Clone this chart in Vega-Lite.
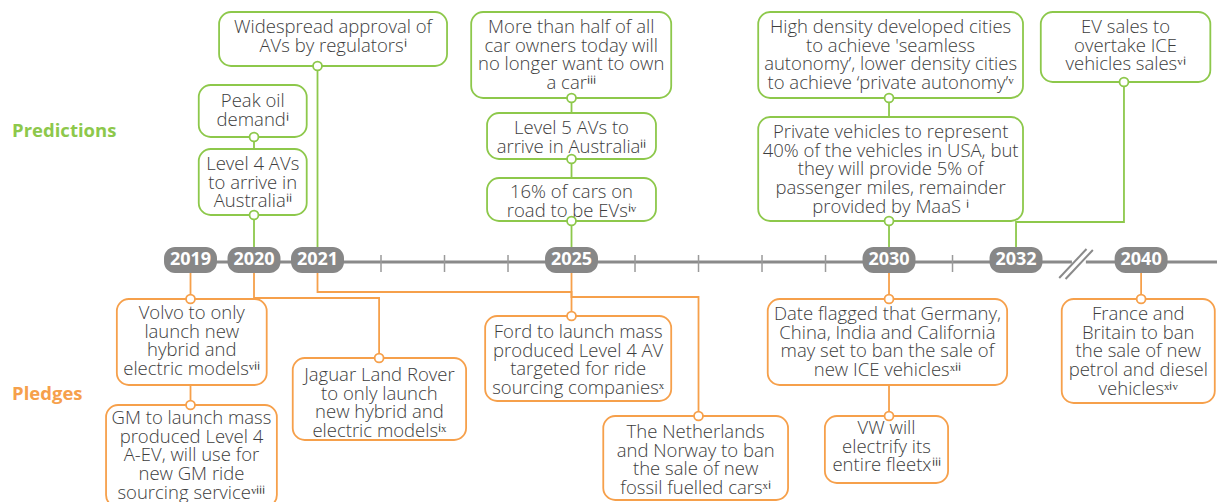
{
  "$schema": "https://vega.github.io/schema/vega-lite/v6.json",
  "width": 1217,
  "height": 502,
  "padding": 0,
  "autosize": "none",
  "background": "white",
  "config": {"view": {"stroke": null}, "axis": {"disable": true}},
  "datasets": {
    "boxes": [
      {"k": "pred", "x1": 2019.45, "x2": 2023.04, "y1": 196, "y2": 250, "tx": 2021.245, "ty": 235, "label": "Widespread approval of\nAVs by regulatorsⁱ"},
      {"k": "pred", "x1": 2019.13, "x2": 2020.83, "y1": 125, "y2": 177, "tx": 2019.98, "ty": 161, "label": "Peak oil\ndemandⁱ"},
      {"k": "pred", "x1": 2019.13, "x2": 2020.83, "y1": 47, "y2": 113, "tx": 2019.98, "ty": 98, "label": "Level 4 AVs\nto arrive in\nAustraliaⁱⁱ"},
      {"k": "pred", "x1": 2023.42, "x2": 2026.57, "y1": 164, "y2": 250, "tx": 2024.995, "ty": 235, "label": "More than half of all\ncar owners today will\nno longer want to own\na carⁱⁱⁱ"},
      {"k": "pred", "x1": 2023.67, "x2": 2026.33, "y1": 103, "y2": 149, "tx": 2025.0, "ty": 134, "label": "Level 5 AVs to\narrive in Australiaⁱⁱ"},
      {"k": "pred", "x1": 2023.67, "x2": 2026.33, "y1": 41, "y2": 84, "tx": 2025.0, "ty": 70, "label": "16% of cars on\nroad to be EVsⁱᵛ"},
      {"k": "pred", "x1": 2027.94, "x2": 2032.11, "y1": 164, "y2": 250, "tx": 2030.025, "ty": 235, "label": "High density developed cities\nto achieve 'seamless\nautonomy’, lower density cities\nto achieve ‘private autonomy’ᵛ"},
      {"k": "pred", "x1": 2027.94, "x2": 2032.11, "y1": 41, "y2": 145, "tx": 2030.025, "ty": 130, "label": "Private vehicles to represent\n40% of the vehicles in USA, but\nthey will provide 5% of\npassenger miles, remainder\nprovided by MaaS ⁱ"},
      {"k": "pred", "x1": 2032.39, "x2": 2035.06, "y1": 180, "y2": 250, "tx": 2033.725, "ty": 235, "label": "EV sales to\novertake ICE\nvehicles salesᵛⁱ"},
      {"k": "pledge", "x1": 2017.84, "x2": 2020.2, "y1": -123, "y2": -37, "tx": 2019.02, "ty": -51, "label": "Volvo to only\nlaunch new\nhybrid and\nelectric modelsᵛⁱⁱ"},
      {"k": "pledge", "x1": 2017.67, "x2": 2020.36, "y1": -245, "y2": -143, "tx": 2019.015, "ty": -156, "label": "GM to launch mass\nproduced Level 4\nA-EV, will  use for\nnew GM ride\nsourcing serviceᵛⁱⁱⁱ"},
      {"k": "pledge", "x1": 2020.61, "x2": 2023.34, "y1": -178, "y2": -96, "tx": 2021.975, "ty": -113, "label": "Jaguar Land Rover\nto only launch\nnew hybrid and\nelectric modelsⁱˣ"},
      {"k": "pledge", "x1": 2023.64, "x2": 2026.57, "y1": -139, "y2": -54, "tx": 2025.105, "ty": -70, "label": "Ford to launch mass\nproduced Level 4 AV\ntargeted for ride\nsourcing companiesˣ"},
      {"k": "pledge", "x1": 2025.5, "x2": 2028.41, "y1": -238, "y2": -154, "tx": 2026.955, "ty": -170, "label": "The Netherlands\nand Norway to ban\nthe sale of new\nfossil fuelled carsˣⁱ"},
      {"k": "pledge", "x1": 2028.09, "x2": 2031.86, "y1": -123, "y2": -37, "tx": 2029.975, "ty": -52, "label": "Date flagged that Germany,\nChina, India and California\nmay set to ban the sale of\nnew ICE vehiclesˣⁱⁱ"},
      {"k": "pledge", "x1": 2028.99, "x2": 2030.93, "y1": -221, "y2": -154, "tx": 2029.96, "ty": -166, "label": "VW will\nelectrify its\nentire fleetxⁱⁱⁱ"},
      {"k": "pledge", "x1": 2032.72, "x2": 2035.13, "y1": -141, "y2": -37, "tx": 2033.925, "ty": -52, "label": "France and\nBritain to ban\nthe sale of new\npetrol and diesel\nvehiclesˣⁱᵛ"}
    ],
    "links": [
      {"id": "a1", "k": "pred", "s": 1, "x": 2020, "y": 0}, {"id": "a1", "k": "pred", "s": 2, "x": 2020, "y": 47},
      {"id": "a2", "k": "pred", "s": 1, "x": 2020, "y": 113}, {"id": "a2", "k": "pred", "s": 2, "x": 2020, "y": 125},
      {"id": "a3", "k": "pred", "s": 1, "x": 2021, "y": 0}, {"id": "a3", "k": "pred", "s": 2, "x": 2021, "y": 196},
      {"id": "a4", "k": "pred", "s": 1, "x": 2025, "y": 0}, {"id": "a4", "k": "pred", "s": 2, "x": 2025, "y": 41},
      {"id": "a5", "k": "pred", "s": 1, "x": 2025, "y": 84}, {"id": "a5", "k": "pred", "s": 2, "x": 2025, "y": 103},
      {"id": "a6", "k": "pred", "s": 1, "x": 2025, "y": 149}, {"id": "a6", "k": "pred", "s": 2, "x": 2025, "y": 164},
      {"id": "a7", "k": "pred", "s": 1, "x": 2030, "y": 0}, {"id": "a7", "k": "pred", "s": 2, "x": 2030, "y": 41},
      {"id": "a8", "k": "pred", "s": 1, "x": 2030, "y": 145}, {"id": "a8", "k": "pred", "s": 2, "x": 2030, "y": 164},
      {"id": "a9", "k": "pred", "s": 1, "x": 2032, "y": 0}, {"id": "a9", "k": "pred", "s": 2, "x": 2032, "y": 40},
      {"id": "a9", "k": "pred", "s": 3, "x": 2033.7, "y": 40}, {"id": "a9", "k": "pred", "s": 4, "x": 2033.7, "y": 180},
      {"id": "b1", "k": "pledge", "s": 1, "x": 2019, "y": 0}, {"id": "b1", "k": "pledge", "s": 2, "x": 2019, "y": -37},
      {"id": "b2", "k": "pledge", "s": 1, "x": 2019, "y": -123}, {"id": "b2", "k": "pledge", "s": 2, "x": 2019, "y": -143},
      {"id": "b3", "k": "pledge", "s": 1, "x": 2020, "y": 0}, {"id": "b3", "k": "pledge", "s": 2, "x": 2020, "y": -36},
      {"id": "b3", "k": "pledge", "s": 3, "x": 2021.97, "y": -36}, {"id": "b3", "k": "pledge", "s": 4, "x": 2021.97, "y": -96},
      {"id": "b4", "k": "pledge", "s": 1, "x": 2021, "y": 0}, {"id": "b4", "k": "pledge", "s": 2, "x": 2021, "y": -30},
      {"id": "b4", "k": "pledge", "s": 3, "x": 2025, "y": -30}, {"id": "b4", "k": "pledge", "s": 4, "x": 2025, "y": -54},
      {"id": "b5", "k": "pledge", "s": 1, "x": 2025, "y": 0}, {"id": "b5", "k": "pledge", "s": 2, "x": 2025, "y": -35},
      {"id": "b5", "k": "pledge", "s": 3, "x": 2027, "y": -35}, {"id": "b5", "k": "pledge", "s": 4, "x": 2027, "y": -154},
      {"id": "b6", "k": "pledge", "s": 1, "x": 2030, "y": 0}, {"id": "b6", "k": "pledge", "s": 2, "x": 2030, "y": -37},
      {"id": "b7", "k": "pledge", "s": 1, "x": 2030, "y": -123}, {"id": "b7", "k": "pledge", "s": 2, "x": 2030, "y": -154},
      {"id": "b8", "k": "pledge", "s": 1, "x": 2033.97, "y": 0}, {"id": "b8", "k": "pledge", "s": 2, "x": 2033.97, "y": -37}
    ],
    "dots": [
      {"k": "pred", "x": 2020, "y": 47}, {"k": "pred", "x": 2020, "y": 125}, {"k": "pred", "x": 2021, "y": 196},
      {"k": "pred", "x": 2025, "y": 41}, {"k": "pred", "x": 2025, "y": 103}, {"k": "pred", "x": 2025, "y": 164},
      {"k": "pred", "x": 2030, "y": 41}, {"k": "pred", "x": 2030, "y": 164}, {"k": "pred", "x": 2033.7, "y": 180},
      {"k": "pledge", "x": 2019, "y": -37}, {"k": "pledge", "x": 2019, "y": -143}, {"k": "pledge", "x": 2021.97, "y": -96},
      {"k": "pledge", "x": 2025, "y": -54}, {"k": "pledge", "x": 2027, "y": -154}, {"k": "pledge", "x": 2030, "y": -37},
      {"k": "pledge", "x": 2030, "y": -154}, {"k": "pledge", "x": 2033.97, "y": -37}
    ],
    "years": [
      {"label": "2019", "pos": 2019, "a": 2018.583, "b": 2019.417},
      {"label": "2020", "pos": 2020, "a": 2019.583, "b": 2020.417},
      {"label": "2021", "pos": 2021, "a": 2020.583, "b": 2021.417},
      {"label": "2025", "pos": 2025, "a": 2024.583, "b": 2025.417},
      {"label": "2030", "pos": 2030, "a": 2029.583, "b": 2030.417},
      {"label": "2032", "pos": 2032, "a": 2031.583, "b": 2032.417},
      {"label": "2040", "pos": 2033.97, "a": 2033.553, "b": 2034.387}
    ],
    "ticks": [{"pos": 2022}, {"pos": 2023}, {"pos": 2024}, {"pos": 2026}, {"pos": 2027}, {"pos": 2028}, {"pos": 2029}, {"pos": 2031}],
    "axisline": [{"a": 2019, "b": 2032.88}, {"a": 2033.1, "b": 2035.2}],
    "breaks": [{"a": 2032.68, "ya": -16, "b": 2033.11, "yb": 13}, {"a": 2032.78, "ya": -17, "b": 2033.21, "yb": 12}],
    "sides": [{"k": "pred", "label": "Predictions", "x": 2016.19, "y": 131}, {"k": "pledge", "label": "Pledges", "x": 2016.19, "y": -132}]
  },
  "layer": [
    {
      "data": {"name": "axisline"},
      "mark": {"type": "rule", "color": "#8a8a8a", "strokeWidth": 3},
      "encoding": {
        "x": {"field": "a", "type": "quantitative", "scale": {"domain": [2016, 2035.165], "nice": false, "zero": false}},
        "x2": {"field": "b"},
        "y": {"datum": 0, "type": "quantitative", "scale": {"domain": [-240, 262], "nice": false, "zero": false}}
      }
    },
    {
      "data": {"name": "ticks"},
      "mark": {"type": "rule", "color": "#9a9a9a", "strokeWidth": 1.5},
      "encoding": {
        "x": {"field": "pos", "type": "quantitative"},
        "y": {"datum": 7, "type": "quantitative"},
        "y2": {"datum": -10}
      }
    },
    {
      "data": {"name": "breaks"},
      "mark": {"type": "rule", "color": "#8a8a8a", "strokeWidth": 2},
      "encoding": {
        "x": {"field": "a", "type": "quantitative"},
        "x2": {"field": "b"},
        "y": {"field": "ya", "type": "quantitative"},
        "y2": {"field": "yb"}
      }
    },
    {
      "data": {"name": "links"},
      "mark": {"type": "line", "strokeWidth": 1.8, "interpolate": "linear"},
      "encoding": {
        "x": {"field": "x", "type": "quantitative"},
        "y": {"field": "y", "type": "quantitative"},
        "detail": {"field": "id"},
        "order": {"field": "s"},
        "stroke": {"field": "k", "type": "nominal", "scale": {"domain": ["pred", "pledge"], "range": ["#8dc84b", "#f6a04b"]}, "legend": null}
      }
    },
    {
      "data": {"name": "years"},
      "mark": {"type": "rect", "color": "#878787", "cornerRadius": 11},
      "encoding": {
        "x": {"field": "a", "type": "quantitative"},
        "x2": {"field": "b"},
        "y": {"datum": 15, "type": "quantitative"},
        "y2": {"datum": -11}
      }
    },
    {
      "data": {"name": "years"},
      "mark": {"type": "text", "color": "white", "font": "Open Sans", "fontWeight": "bold", "fontSize": 18, "align": "center", "baseline": "middle"},
      "encoding": {
        "x": {"field": "pos", "type": "quantitative"},
        "y": {"datum": 2, "type": "quantitative"},
        "text": {"field": "label"}
      }
    },
    {
      "data": {"name": "boxes"},
      "mark": {"type": "rect", "fill": "white", "strokeWidth": 1.8, "cornerRadius": 12},
      "encoding": {
        "x": {"field": "x1", "type": "quantitative"},
        "x2": {"field": "x2"},
        "y": {"field": "y1", "type": "quantitative"},
        "y2": {"field": "y2"},
        "stroke": {"field": "k", "type": "nominal", "legend": null}
      }
    },
    {
      "data": {"name": "dots"},
      "mark": {"type": "point", "shape": "circle", "filled": false, "fill": "white", "fillOpacity": 1, "size": 80, "strokeWidth": 1.8, "opacity": 1},
      "encoding": {
        "x": {"field": "x", "type": "quantitative"},
        "y": {"field": "y", "type": "quantitative"},
        "stroke": {"field": "k", "type": "nominal", "legend": null}
      }
    },
    {
      "data": {"name": "boxes"},
      "mark": {"type": "text", "color": "#3d3d3d", "font": "Open Sans", "fontWeight": 300, "fontSize": 18.5, "lineHeight": 18.7, "lineBreak": "\n", "align": "center", "baseline": "middle"},
      "encoding": {
        "x": {"field": "tx", "type": "quantitative"},
        "y": {"field": "ty", "type": "quantitative"},
        "text": {"field": "label"}
      }
    },
    {
      "data": {"name": "sides"},
      "mark": {"type": "text", "font": "Open Sans", "fontWeight": "bold", "fontSize": 18.5, "align": "left", "baseline": "middle"},
      "encoding": {
        "x": {"field": "x", "type": "quantitative"},
        "y": {"field": "y", "type": "quantitative"},
        "text": {"field": "label"},
        "color": {"field": "k", "type": "nominal", "scale": {"domain": ["pred", "pledge"], "range": ["#8dc84b", "#f6a04b"]}, "legend": null}
      }
    }
  ]
}
